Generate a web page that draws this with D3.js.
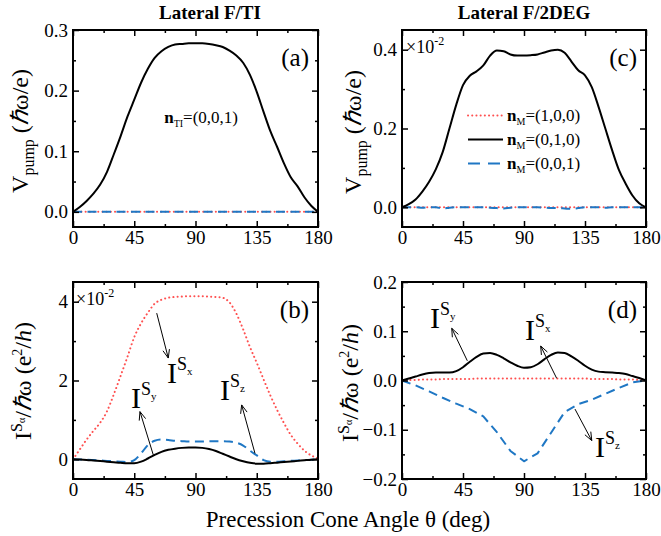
<!DOCTYPE html>
<html><head><meta charset="utf-8">
<script src="https://cdn.jsdelivr.net/npm/d3@7"></script>
<style>
body{margin:0;background:#fff}
svg text{font-family:"Liberation Serif","Times New Roman",serif;fill:#000}
</style></head><body>
<svg id="fig" width="661" height="536"></svg>
<script>
// ---- data ----
const angles = [0,5,10,15,20,25,30,35,40,45,50,55,60,65,70,75,80,85,90,95,100,105,110,115,120,125,130,135,140,145,150,155,160,165,170,175,180];
const angles10 = [0,10,20,30,40,50,60,70,80,90,100,110,120,130,140,150,160,170,180];

// (a) V_pump, lateral F/TI
const vTI_y = [0,0.008,0.018,0.03,0.045,0.066,0.095,0.125,0.157,0.185,0.213,0.236,0.254,0.265,0.272,0.276,0.277,0.278,0.278,0.278,0.277,0.275,0.272,0.266,0.258,0.246,0.226,0.198,0.165,0.133,0.107,0.08,0.057,0.042,0.024,0.01,0];
const vTI_zero = [0,0,0,0,0,0,0,0,0,0,0,0,0,0,0,0,0,0,0,0,0,0,0,0,0,0,0,0,0,0,0,0,0,0,0,0,0];

// (c) V_pump, lateral F/2DEG (x10^-2)
const v2D_x = [0,0,0,0,0,0,0,0,0,0,0,0,0,0,0,0,0,0,0,0,0,0,0,0,0,0,0,0,0,0,0,0,0,0,0,0,0];
const v2D_y = [0,0.008,0.02,0.04,0.065,0.097,0.14,0.2,0.26,0.31,0.334,0.345,0.36,0.385,0.398,0.396,0.388,0.385,0.385,0.386,0.388,0.393,0.398,0.4,0.392,0.37,0.348,0.335,0.305,0.255,0.2,0.145,0.095,0.06,0.03,0.01,0];
const v2D_z = [0,0,0,-0.001,0,0,-0.003,-0.001,0,0,0,0,0,-0.001,-0.002,-0.003,-0.001,0,0,0,0,-0.001,-0.002,-0.002,-0.003,-0.004,-0.002,0,0,0,-0.001,0,0,0,0,0,0];

// (b) spin currents, lateral F/TI (x10^-2)
const iTI_x = [0,0.25,0.5,0.72,0.93,1.22,1.65,2.12,2.6,3.1,3.45,3.72,3.95,4.05,4.1,4.12,4.13,4.14,4.14,4.14,4.13,4.12,4.1,3.98,3.7,3.3,2.85,2.45,2.03,1.62,1.25,0.92,0.62,0.4,0.22,0.1,0.02];
const iTI_y = [0,-0.005,-0.015,-0.03,-0.045,-0.06,-0.075,-0.09,-0.1,-0.1,-0.06,0.02,0.11,0.19,0.24,0.27,0.29,0.3,0.3,0.29,0.26,0.21,0.14,0.07,0,-0.05,-0.09,-0.11,-0.11,-0.1,-0.085,-0.07,-0.055,-0.04,-0.025,-0.01,0];
const iTI_z = [0,-0.005,-0.01,-0.02,-0.03,-0.04,-0.05,-0.06,-0.07,-0.02,0.15,0.36,0.47,0.5,0.49,0.47,0.46,0.45,0.45,0.45,0.455,0.46,0.46,0.45,0.42,0.35,0.22,0.1,-0.02,-0.06,-0.06,-0.05,-0.04,-0.03,-0.02,-0.01,0];

// (d) spin currents, lateral F/2DEG
const i2D_x = [0,0.001,0.001,0.002,0.002,0.002,0.003,0.003,0.003,0.003,0.003,0.004,0.004,0.004,0.004,0.004,0.004,0.004,0.004,0.004,0.004,0.004,0.004,0.004,0.004,0.004,0.004,0.004,0.003,0.003,0.003,0.003,0.002,0.002,0.002,0.001,0];
const i2D_y = [0,0.004,0.008,0.012,0.015,0.016,0.016,0.016,0.019,0.027,0.038,0.048,0.055,0.056,0.052,0.045,0.037,0.03,0.026,0.027,0.033,0.043,0.052,0.057,0.056,0.049,0.04,0.03,0.022,0.018,0.017,0.016,0.015,0.013,0.009,0.005,0];
const i2D_z = [0,-0.01,-0.022,-0.035,-0.047,-0.058,-0.073,-0.105,-0.143,-0.164,-0.148,-0.106,-0.064,-0.048,-0.039,-0.027,-0.015,-0.004,0];

// axis ticks
const xTicks = [0,45,90,135,180];
const xMinor = [22.5,67.5,112.5,157.5];
const aTicks = [0,0.1,0.2,0.3], aMinor = [0.05,0.15,0.25];
const cTicks = [0,0.2,0.4], cMinor = [0.1,0.3];
const bTicks = [0,2,4], bMinor = [1,3];
const dTicks = [-0.2,-0.1,0,0.1,0.2], dMinor = [-0.15,-0.05,0.05,0.15];

// ---- styles ----
const RED = "#ff5050", BLUE = "#1f77c4";
const styles = {
  x: {stroke: RED, width: 2, dash: "0.1,4.1", cap: "round"},
  y: {stroke: "#000", width: 2, dash: null, cap: "butt"},
  z: {stroke: BLUE, width: 2, dash: "9,5.5", cap: "butt"}
};

const svg = d3.select("#fig");

function panel(cfg) {
  const x = d3.scaleLinear().domain([0,180]).range([cfg.left, cfg.right]);
  const y = d3.scaleLinear().domain(cfg.ydom).range([cfg.bottom, cfg.top]);
  const g = svg.append("g");

  // lines
  cfg.series.forEach(s => {
    const st = styles[s.kind];
    const pts = s.xs.map((a,i) => [a, s.ys[i]]);
    const line = d3.line().x(d => x(d[0])).y(d => y(d[1]))
      .curve(s.linear ? d3.curveLinear : d3.curveMonotoneX);
    g.append("path").attr("d", line(pts)).attr("fill","none")
      .attr("stroke", st.stroke).attr("stroke-width", st.width)
      .attr("stroke-dasharray", st.dash).attr("stroke-linecap", st.cap)
      .attr("stroke-linejoin","round");
  });

  const axes = g.append("g").attr("class","axes");
  function addAxis(gen, tr, vals, size, labels, fmt, pad) {
    const a = gen.tickValues(vals).tickSize(-size).tickPadding(pad || 5)
      .tickFormat(labels ? fmt : "");
    const ag = axes.append("g").attr("transform", tr).call(a);
    ag.select(".domain").remove();
    ag.selectAll(".tick line").attr("stroke","#000").attr("stroke-width",1.5);
    ag.selectAll("text").attr("font-size", 19).attr("font-family",'"Liberation Serif",serif').attr("fill","#000");
    return ag;
  }
  const xfmt = d3.format("d");
  addAxis(d3.axisBottom(x), `translate(0,${cfg.bottom})`, xTicks, 6, true, xfmt, 4);
  addAxis(d3.axisBottom(x), `translate(0,${cfg.bottom})`, xMinor, 3, false);
  addAxis(d3.axisTop(x), `translate(0,${cfg.top})`, xTicks, 6, false);
  addAxis(d3.axisTop(x), `translate(0,${cfg.top})`, xMinor, 3, false);
  addAxis(d3.axisLeft(y), `translate(${cfg.left},0)`, cfg.yticks, 6, true, cfg.yfmt, 5);
  addAxis(d3.axisLeft(y), `translate(${cfg.left},0)`, cfg.yminor, 3, false);
  addAxis(d3.axisRight(y), `translate(${cfg.right},0)`, cfg.yticks, 6, false);
  addAxis(d3.axisRight(y), `translate(${cfg.right},0)`, cfg.yminor, 3, false);

  g.append("rect").attr("x", cfg.left).attr("y", cfg.top)
    .attr("width", cfg.right - cfg.left).attr("height", cfg.bottom - cfg.top)
    .attr("fill","none").attr("stroke","#000").attr("stroke-width",2);

  // panel tag
  g.append("text").attr("x", cfg.right - 9).attr("y", cfg.top + 36)
    .attr("text-anchor","end").attr("font-size", 25).text(`(${cfg.id})`);
  return {x, y, g};
}

// rich text: parts with optional size, dy, bold, italic
function rich(sel, parts) {
  parts.forEach(p => {
    const t = sel.append("tspan").text(p.t);
    if (p.size) t.attr("font-size", p.size);
    if (p.dy) t.attr("dy", p.dy);
    if (p.bold) t.attr("font-weight","bold");
    if (p.italic) t.attr("font-style","italic");
  });
  return sel;
}

function ylabel(cx, cy, parts) {
  const t = svg.append("text").attr("transform", `translate(${cx},${cy}) rotate(-90)`)
    .attr("text-anchor","middle").attr("font-size", 24);
  rich(t, parts);
}

function arrow(p, tail, head) {
  const x1 = p.x(tail[0]), y1 = p.y(tail[1]), x2 = p.x(head[0]), y2 = p.y(head[1]);
  p.g.append("line").attr("x1",x1).attr("y1",y1).attr("x2",x2).attr("y2",y2)
    .attr("stroke","#000").attr("stroke-width",1);
  const ang = Math.atan2(y2 - y1, x2 - x1), L = 9, w = 0.38;
  const pth = d3.path();
  pth.moveTo(x2 - L*Math.cos(ang - w), y2 - L*Math.sin(ang - w));
  pth.lineTo(x2, y2);
  pth.lineTo(x2 - L*Math.cos(ang + w), y2 - L*Math.sin(ang + w));
  p.g.append("path").attr("d", pth.toString()).attr("fill","none")
    .attr("stroke","#000").attr("stroke-width",1);
}

function currentLabel(p, pos, comp) {
  const t = p.g.append("text").attr("x", p.x(pos[0])).attr("y", p.y(pos[1])).attr("font-size", 30);
  rich(t, [{t:"I"}, {t:"S", size:18, dy:-13}, {t:comp, size:11, dy:5}]);
}

// ---- panel (a) ----
const pa = panel({id:"a", left:73, right:318, top:30, bottom:227, ydom:[-0.025,0.3],
  yticks:aTicks, yminor:aMinor, yfmt:d3.format(".1f"),
  series:[{kind:"x", xs:angles, ys:vTI_zero},{kind:"z", xs:angles, ys:vTI_zero},{kind:"y", xs:angles, ys:vTI_y}]});
rich(pa.g.append("text").attr("x", pa.x(67)).attr("y", pa.y(0.147)).attr("font-size",17),
  [{t:"n", bold:true},{t:"TI", size:10, dy:4},{t:"=(0,0,1)", dy:-4}]);

// ---- panel (c) ----
const pc = panel({id:"c", left:402, right:646, top:30, bottom:227, ydom:[-0.05,0.45],
  yticks:cTicks, yminor:cMinor, yfmt:d3.format(".1f"),
  series:[{kind:"x", xs:angles, ys:v2D_x},{kind:"z", xs:angles, ys:v2D_z},{kind:"y", xs:angles, ys:v2D_y}]});
rich(pc.g.append("text").attr("x", 406).attr("y", 53).attr("font-size",18),
  [{t:"×10"},{t:"-2", size:12, dy:-8}]);

// legend (c)
const legendItems = [{kind:"x", label:"(1,0,0)"},{kind:"y", label:"(0,1,0)"},{kind:"z", label:"(0,0,1)"}];
legendItems.forEach((it, i) => {
  const yy = 115.5 + i*24, st = styles[it.kind];
  pc.g.append("line").attr("x1",468).attr("x2",503).attr("y1",yy).attr("y2",yy)
    .attr("stroke",st.stroke).attr("stroke-width",st.width)
    .attr("stroke-dasharray", it.kind==="z" ? "12,8" : st.dash).attr("stroke-linecap",st.cap);
  rich(pc.g.append("text").attr("x",507).attr("y",yy+5).attr("font-size",17),
    [{t:"n", bold:true},{t:"M", size:10, dy:4},{t:"="+it.label, dy:-4}]);
});

// ---- panel (b) ----
const pb = panel({id:"b", left:73, right:318, top:282, bottom:479, ydom:[-0.5,4.5],
  yticks:bTicks, yminor:bMinor, yfmt:d3.format("d"),
  series:[{kind:"x", xs:angles, ys:iTI_x},{kind:"z", xs:angles, ys:iTI_z},{kind:"y", xs:angles, ys:iTI_y}]});
rich(pb.g.append("text").attr("x", 76).attr("y", 305).attr("font-size",18),
  [{t:"×10"},{t:"-2", size:12, dy:-8}]);
arrow(pb, [61.5,3.71], [70,2.57]);
arrow(pb, [59,0.11], [49.2,1.21]);
arrow(pb, [133.7,0.15], [123.9,1.38]);
currentLabel(pb, [69,1.94], "x");
currentLabel(pb, [42.6,1.3], "y");
currentLabel(pb, [108,1.5], "z");

// ---- panel (d) ----
const pd = panel({id:"d", left:402, right:646, top:282, bottom:479, ydom:[-0.2,0.2],
  yticks:dTicks, yminor:dMinor, yfmt:d3.format(".1f"),
  series:[{kind:"x", xs:angles, ys:i2D_x},{kind:"z", xs:angles10, ys:i2D_z, linear:true},{kind:"y", xs:angles, ys:i2D_y}]});
arrow(pd, [48.2,0.04], [36.7,0.106]);
arrow(pd, [114.1,0.0045], [102.3,0.07]);
arrow(pd, [127.6,-0.058], [140,-0.122]);
currentLabel(pd, [20.7,0.107], "y");
currentLabel(pd, [90.7,0.082], "x");
currentLabel(pd, [142.4,-0.155], "z");

// ---- titles and axis labels ----
svg.append("text").attr("x",210).attr("y",19).attr("text-anchor","middle")
  .attr("font-size",19).attr("font-weight","bold").text("Lateral F/TI");
svg.append("text").attr("x",524).attr("y",19).attr("text-anchor","middle")
  .attr("font-size",19).attr("font-weight","bold").text("Lateral F/2DEG");

const vParts = [{t:"V"},{t:"pump", size:16, dy:6},{t:" (", dy:-6},{t:"ℏ", italic:true},{t:"ω/e)"}];
ylabel(28, 131, vParts);
ylabel(361, 132, vParts);
const iParts = [{t:"I"},{t:"S", size:16, dy:-9},{t:"α", size:10, dy:3},{t:"/", dy:6},{t:"ℏ", italic:true},{t:"ω (e"},{t:"2", size:14, dy:-9},{t:"/", dy:9},{t:"h", italic:true},{t:")"}];
ylabel(31, 381, iParts);
ylabel(358, 383, iParts);

svg.append("text").attr("x",348).attr("y",527).attr("text-anchor","middle")
  .attr("font-size",23).text("Precession Cone Angle θ (deg)");
</script>
</body></html>
